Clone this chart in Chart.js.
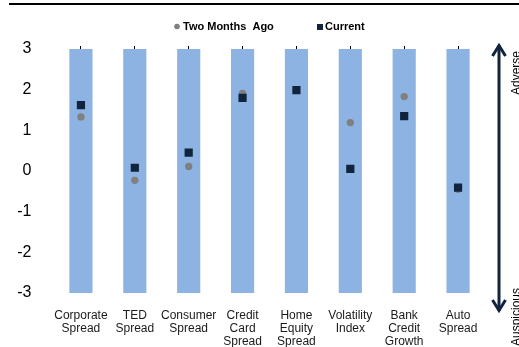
<!DOCTYPE html>
<html lang="en">
<head>
<meta charset="utf-8">
<title>Credit Indicators</title>
<script src="https://cdn.jsdelivr.net/npm/chart.js@4.4.0/dist/chart.umd.min.js"></script>
<style>
  html, body { margin: 0; padding: 0; background: #fff; }
  canvas { display: block; }
</style>
</head>
<body>
<canvas id="grafica" width="519" height="347"></canvas>
<script>
  // --- Datos ---
  const categorias = [
    ['Corporate', 'Spread'], ['TED', 'Spread'], ['Consumer', 'Spread'], ['Credit', 'Card', 'Spread'],
    ['Home', 'Equity', 'Spread'], ['Volatility', 'Index'], ['Bank', 'Credit', 'Growth'], ['Auto', 'Spread']
  ];
  const haceDosMeses = [1.33, -0.23, 0.11, 1.91, 2.0, 1.19, 1.83, -0.45];
  const actual = [1.62, 0.08, 0.45, 1.80, 1.99, 0.05, 1.35, -0.41];
  const rangoEje = [-3, 3];
  const nombresSeries = ['Two Months  Ago', 'Current'];
  const etiquetasFlecha = ['Adverse', 'Auspicious'];

document.addEventListener('DOMContentLoaded', () => {
  const fuente = "'Liberation Sans', Arial, sans-serif";
  const azulBarra = '#8db3e2';
  const azulOscuro = '#10243e';
  const gris = '#808080';

  // --- Linea superior, leyenda y flecha lateral ---
  const decoraciones = {
    id: 'decoraciones',
    afterDraw(chart) {
      const { ctx, chartArea } = chart;
      ctx.save();

      ctx.fillStyle = '#000';
      ctx.fillRect(9, 3, chart.width - 9, 2);

      // leyenda
      ctx.font = `bold 11px ${fuente}`;
      ctx.textBaseline = 'middle';
      ctx.fillStyle = gris;
      ctx.beginPath();
      ctx.arc(177, 26.5, 2.8, 0, Math.PI * 2);
      ctx.fill();
      ctx.fillStyle = '#000';
      ctx.fillText(chart.data.datasets[1].label, 183, 27);
      ctx.fillStyle = azulOscuro;
      ctx.fillRect(317, 24, 6, 6);
      ctx.fillStyle = '#000';
      ctx.fillText(chart.data.datasets[2].label, 325, 27);

      // flecha doble
      const x = 499;
      const arriba = chartArea.top - 5;
      const abajo = chartArea.bottom + 19;
      ctx.strokeStyle = azulOscuro;
      ctx.lineWidth = 3;
      ctx.lineJoin = 'miter';
      ctx.beginPath();
      ctx.moveTo(x, arriba + 1);
      ctx.lineTo(x, abajo - 1);
      ctx.stroke();
      ctx.beginPath();
      ctx.moveTo(x - 6.5, arriba + 12);
      ctx.lineTo(x, arriba + 1.5);
      ctx.lineTo(x + 6.5, arriba + 12);
      ctx.stroke();
      ctx.beginPath();
      ctx.moveTo(x - 6.5, abajo - 12);
      ctx.lineTo(x, abajo - 1.5);
      ctx.lineTo(x + 6.5, abajo - 12);
      ctx.stroke();

      // textos girados
      ctx.fillStyle = '#000';
      ctx.font = `12px ${fuente}`;
      ctx.textBaseline = 'alphabetic';
      ctx.textAlign = 'left';
      ctx.save();
      ctx.translate(520, 95);
      ctx.rotate(-Math.PI / 2);
      ctx.fillText(etiquetasFlecha[0], 0, 0);
      ctx.restore();
      ctx.save();
      ctx.translate(520, 346);
      ctx.rotate(-Math.PI / 2);
      ctx.fillText(etiquetasFlecha[1], 0, 0);
      ctx.restore();

      ctx.restore();
    }
  };

  new Chart(document.getElementById('grafica'), {
    type: 'bar',
    data: {
      labels: categorias,
      datasets: [
        {
          type: 'bar',
          label: 'Rango',
          data: categorias.map(() => [rangoEje[0], rangoEje[1]]),
          backgroundColor: azulBarra,
          borderWidth: 0,
          borderSkipped: false,
          barPercentage: 0.43,
          categoryPercentage: 1,
          order: 3
        },
        {
          type: 'line',
          label: nombresSeries[0],
          data: haceDosMeses,
          showLine: false,
          pointStyle: 'circle',
          pointRadius: 3.7,
          pointBackgroundColor: gris,
          pointBorderWidth: 0,
          order: 2
        },
        {
          type: 'line',
          label: nombresSeries[1],
          data: actual,
          showLine: false,
          pointStyle: 'rect',
          pointRadius: 5.8,
          pointBackgroundColor: azulOscuro,
          pointBorderWidth: 0,
          order: 1
        }
      ]
    },
    options: {
      responsive: false,
      animation: false,
      devicePixelRatio: 1,
      layout: { padding: { top: 0, right: 34, bottom: 0, left: 0 } },
      plugins: {
        legend: { display: false },
        tooltip: { enabled: false }
      },
      scales: {
        x: {
          type: 'category',
          offset: true,
          grid: { display: false },
          border: { display: false },
          ticks: {
            padding: 8,
            maxRotation: 0,
            autoSkip: false,
            color: '#1a1a1a',
            font: { family: fuente, size: 12, lineHeight: '13px' }
          },
          afterFit: scale => { scale.height = 54; }
        },
        xArriba: {
          type: 'category',
          position: 'top',
          offset: true,
          grid: {
            display: true,
            offset: false,
            drawOnChartArea: false,
            drawTicks: true,
            tickLength: 3,
            color: '#000'
          },
          border: { display: false },
          ticks: { display: false },
          afterFit: scale => { scale.height = 49; }
        },
        y: {
          min: rangoEje[0],
          max: rangoEje[1],
          grid: { display: false },
          border: { display: false },
          ticks: {
            stepSize: 1,
            padding: 14.5,
            color: '#000',
            font: { family: fuente, size: 16 }
          },
          afterFit: scale => { scale.width = 54; }
        }
      }
    },
    plugins: [decoraciones]
  });
});
</script>
</body>
</html>
